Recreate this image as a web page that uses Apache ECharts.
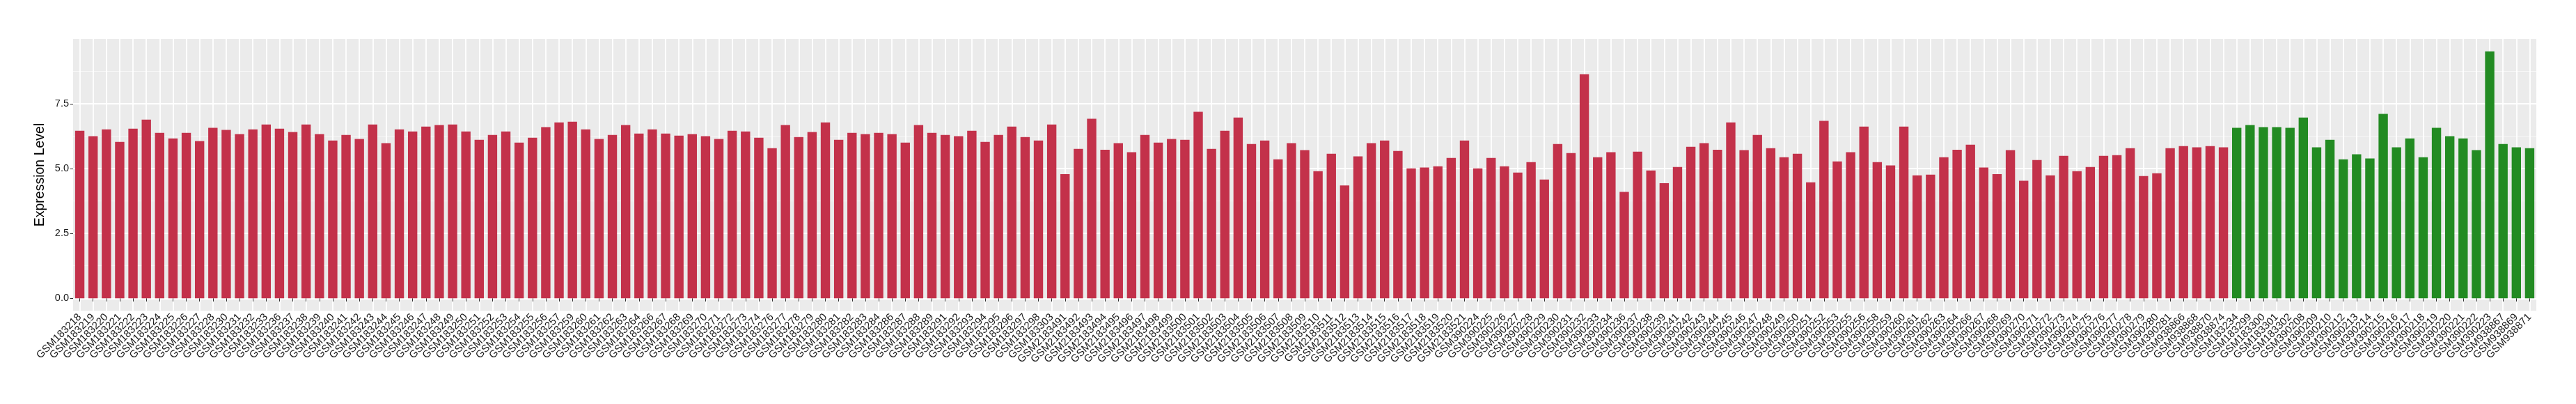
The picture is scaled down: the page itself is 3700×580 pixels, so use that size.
<!DOCTYPE html>
<html>
<head>
<meta charset="utf-8">
<title>Expression Level</title>
<script src="https://cdn.jsdelivr.net/npm/echarts@6/dist/echarts.min.js"></script>
<style>
  html, body { margin: 0; padding: 0; background: #fff; }
  #chart { width: 3700px; height: 580px; }
</style>
</head>
<body>
<div id="chart"></div>
<script>
  // samples drawn in red, in plot order
  const redSamples = [
    'GSM183218', 'GSM183219', 'GSM183220', 'GSM183221', 'GSM183222', 'GSM183223', 'GSM183224', 'GSM183225',
    'GSM183226', 'GSM183227', 'GSM183228', 'GSM183230', 'GSM183231', 'GSM183232', 'GSM183233', 'GSM183236',
    'GSM183237', 'GSM183238', 'GSM183239', 'GSM183240', 'GSM183241', 'GSM183242', 'GSM183243', 'GSM183244',
    'GSM183245', 'GSM183246', 'GSM183247', 'GSM183248', 'GSM183249', 'GSM183250', 'GSM183251', 'GSM183252',
    'GSM183253', 'GSM183254', 'GSM183255', 'GSM183256', 'GSM183257', 'GSM183259', 'GSM183260', 'GSM183261',
    'GSM183262', 'GSM183263', 'GSM183264', 'GSM183266', 'GSM183267', 'GSM183268', 'GSM183269', 'GSM183270',
    'GSM183271', 'GSM183272', 'GSM183273', 'GSM183274', 'GSM183276', 'GSM183277', 'GSM183278', 'GSM183279',
    'GSM183280', 'GSM183281', 'GSM183282', 'GSM183283', 'GSM183284', 'GSM183286', 'GSM183287', 'GSM183288',
    'GSM183289', 'GSM183291', 'GSM183292', 'GSM183293', 'GSM183294', 'GSM183295', 'GSM183296', 'GSM183297',
    'GSM183298', 'GSM183303',
    'GSM2183491', 'GSM2183492', 'GSM2183493', 'GSM2183494', 'GSM2183495', 'GSM2183496', 'GSM2183497',
    'GSM2183498', 'GSM2183499', 'GSM2183500', 'GSM2183501', 'GSM2183502', 'GSM2183503', 'GSM2183504',
    'GSM2183505', 'GSM2183506', 'GSM2183507', 'GSM2183508', 'GSM2183509', 'GSM2183510', 'GSM2183511',
    'GSM2183512', 'GSM2183513', 'GSM2183514', 'GSM2183515', 'GSM2183516', 'GSM2183517', 'GSM2183518',
    'GSM2183519', 'GSM2183520', 'GSM2183521',
    'GSM390224', 'GSM390225', 'GSM390226', 'GSM390227', 'GSM390228', 'GSM390229', 'GSM390230', 'GSM390231',
    'GSM390232', 'GSM390233', 'GSM390234', 'GSM390236', 'GSM390237', 'GSM390238', 'GSM390239', 'GSM390241',
    'GSM390242', 'GSM390243', 'GSM390244', 'GSM390245', 'GSM390246', 'GSM390247', 'GSM390248', 'GSM390249',
    'GSM390250', 'GSM390251', 'GSM390252', 'GSM390253', 'GSM390255', 'GSM390256', 'GSM390258', 'GSM390259',
    'GSM390260', 'GSM390261', 'GSM390262', 'GSM390263', 'GSM390264', 'GSM390266', 'GSM390267', 'GSM390268',
    'GSM390269', 'GSM390270', 'GSM390271', 'GSM390272', 'GSM390273', 'GSM390274', 'GSM390275', 'GSM390276',
    'GSM390277', 'GSM390278', 'GSM390279', 'GSM390280', 'GSM390281',
    'GSM938866', 'GSM938868', 'GSM938870', 'GSM938874'
  ]
  const redValues = [
    6.46, 6.25, 6.51, 6.03, 6.54, 6.89, 6.38, 6.16, 6.38, 6.06,
    6.57, 6.49, 6.33, 6.51, 6.70, 6.54, 6.41, 6.70, 6.33, 6.08,
    6.30, 6.14, 6.70, 5.98, 6.51, 6.43, 6.62, 6.68, 6.70, 6.43,
    6.11, 6.30, 6.43, 6.00, 6.19, 6.60, 6.78, 6.81, 6.51, 6.14,
    6.30, 6.68, 6.35, 6.51, 6.35, 6.27, 6.33, 6.25, 6.14, 6.46,
    6.43, 6.19, 5.79, 6.68, 6.22, 6.41, 6.78, 6.11, 6.38, 6.33,
    6.38, 6.33, 6.00, 6.68, 6.38, 6.30, 6.25, 6.46, 6.03, 6.30,
    6.62, 6.22, 6.08, 6.70, 4.79, 5.76, 6.92, 5.73, 5.98, 5.63,
    6.30, 6.00, 6.14, 6.11, 7.19, 5.76, 6.46, 6.97, 5.95, 6.08,
    5.36, 5.98, 5.71, 4.90, 5.57, 4.35, 5.47, 5.98, 6.08, 5.68,
    5.01, 5.04, 5.09, 5.41, 6.08, 5.01, 5.41, 5.09, 4.85, 5.25,
    4.58, 5.95, 5.60, 8.64, 5.44, 5.63, 4.10, 5.65, 4.93, 4.44,
    5.06, 5.84, 5.98, 5.73, 6.78, 5.71, 6.30, 5.79, 5.44, 5.57,
    4.47, 6.84, 5.28, 5.63, 6.62, 5.25, 5.12, 6.62, 4.74, 4.77,
    5.44, 5.73, 5.92, 5.04, 4.79, 5.71, 4.53, 5.33, 4.74, 5.49,
    4.90, 5.06, 5.49, 5.52, 5.79, 4.71, 4.82, 5.79, 5.87, 5.82,
    5.87, 5.82
  ]

  // samples drawn in green
  const greenSamples = [
    'GSM183234', 'GSM183299', 'GSM183300', 'GSM183301', 'GSM183302', 'GSM390208', 'GSM390209', 'GSM390210',
    'GSM390212', 'GSM390213', 'GSM390214', 'GSM390215', 'GSM390216', 'GSM390217', 'GSM390218', 'GSM390219',
    'GSM390220', 'GSM390221', 'GSM390222', 'GSM390223', 'GSM938867', 'GSM938869', 'GSM938871'
  ]
  const greenValues = [
    6.57, 6.68, 6.60, 6.60, 6.57, 6.97, 5.82, 6.11, 5.36, 5.55,
    5.39, 7.11, 5.82, 6.16, 5.44, 6.57, 6.25, 6.16, 5.71, 9.52,
    5.95, 5.82, 5.79
  ]

  const yTicks = [0, 2.5, 5, 7.5]
  const yMinorTicks = [1.25, 3.75, 6.25, 8.75]

  const RED = '#C3314A'
  const GREEN = '#228B22'
  const FONT = '"Liberation Sans", Arial, Helvetica, sans-serif'

  const categories = redSamples.concat(greenSamples)
  const barData = redValues.map(v => ({ value: v, itemStyle: { color: RED } }))
    .concat(greenValues.map(v => ({ value: v, itemStyle: { color: GREEN } })))

  // ggplot style limits: 5% expansion of [0, max]
  const yMax = Math.max.apply(null, redValues.concat(greenValues))
  const yLow = -0.05 * yMax
  const yHigh = 1.05 * yMax

  const myChart = echarts.init(document.getElementById('chart'))
  myChart.setOption({
    animation: false,
    backgroundColor: '#fff',
    grid: {
      left: 105,
      right: 57,
      top: 56,
      bottom: 134,
      show: true,
      backgroundColor: '#EBEBEB',
      borderWidth: 0
    },
    xAxis: {
      type: 'category',
      data: categories,
      boundaryGap: true,
      axisLine: { show: false },
      axisTick: {
        show: true,
        interval: 0,
        alignWithLabel: true,
        length: 4.5,
        lineStyle: { color: '#333', width: 1 }
      },
      axisLabel: {
        interval: 0,
        rotate: 45,
        margin: 7,
        fontSize: 15,
        fontFamily: FONT,
        color: '#1a1a1a'
      },
      splitLine: {
        show: true,
        interval: 0,
        alignWithLabel: true,
        lineStyle: { color: '#fff', width: 1.8 }
      }
    },
    yAxis: [
      {
        type: 'value',
        min: yLow,
        max: yHigh,
        name: 'Expression Level',
        nameLocation: 'middle',
        nameGap: 26,
        nameTextStyle: { fontSize: 19.5, fontFamily: FONT, color: '#000' },
        axisLine: { show: false },
        axisTick: {
          show: true,
          customValues: yTicks,
          length: 4.5,
          lineStyle: { color: '#333', width: 1 }
        },
        axisLabel: {
          customValues: yTicks,
          formatter: v => v.toFixed(1),
          margin: 6,
          fontSize: 14.5,
          fontFamily: FONT,
          color: '#1a1a1a'
        },
        splitLine: { show: true, lineStyle: { color: '#fff', width: 1.8 } }
      },
      {
        type: 'value',
        min: yLow,
        max: yHigh,
        axisLine: { show: false },
        axisTick: { show: false, customValues: yMinorTicks },
        axisLabel: { show: false, customValues: yMinorTicks },
        splitLine: { show: true, lineStyle: { color: '#F7F7F7', width: 1 } }
      }
    ],
    series: [
      {
        type: 'bar',
        yAxisIndex: 0,
        data: barData,
        barWidth: '70%',
        z: 5
      }
    ]
  })
  window.addEventListener('resize', function() {
    myChart.resize()
  })
</script>
</body>
</html>
